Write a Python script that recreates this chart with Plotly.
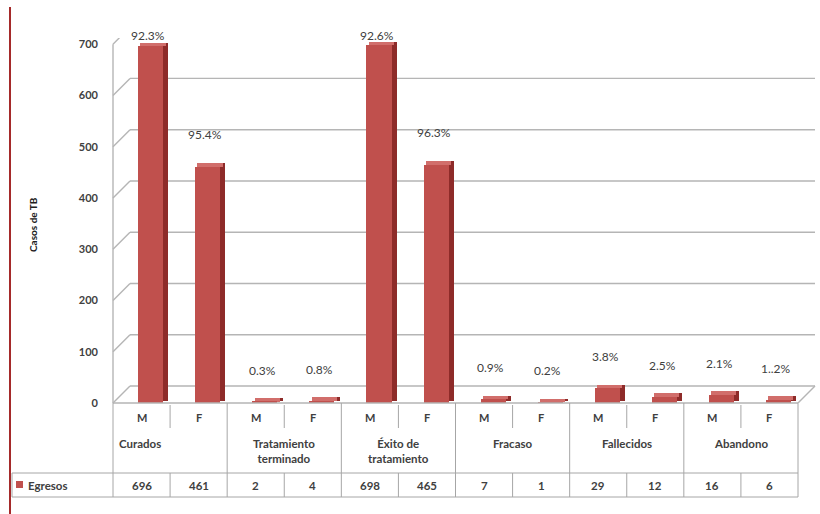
import plotly.graph_objects as go

# ---------------- data ----------------
groups = ["Curados", "Tratamiento<br>terminado", "Éxito de<br>tratamiento",
          "Fracaso", "Fallecidos", "Abandono"]
sexes = ["M", "F"]
series_name = "Egresos"
egresos = [696, 461, 2, 4, 698, 465, 7, 1, 29, 12, 16, 6]
pct_labels = ["92.3%", "95.4%", "0.3%", "0.8%", "92.6%", "96.3%",
              "0.9%", "0.2%", "3.8%", "2.5%", "2.1%", "1..2%"]
y_ticks = [0, 100, 200, 300, 400, 500, 600, 700]
y_title = "Casos de TB"

# ---------------- layout helpers ----------------
W, H = 820, 514
ML, MR, MT, MB = 113, 22, 38, 111
PW, PH = W - ML - MR, H - MT - MB
Y0PX = MT + PH  # pixel row of y=0


def px(x):
    return (x - ML) / PW


def py(y):
    return (Y0PX - y) / PH


FONT = "Lato"
TXT = "#404040"
RED = "#C0504D"
RED_DARK = "#8E2B29"
RED_TOP = "#D16E6B"
GRID = "#B5B5B5"
TBL = "#A6A6A6"
DEPTH = 17

n = len(egresos)
xs = list(range(n))

fig = go.Figure()

# side faces
fig.add_trace(go.Bar(x=xs, y=[v + 3.5 for v in egresos], base=[3.5] * n,
                     width=0.09, offset=0.38, marker=dict(color=RED_DARK, line=dict(width=0)),
                     hoverinfo="skip", showlegend=False))
# top faces
fig.add_trace(go.Bar(x=xs, y=[7] * n, base=egresos,
                     width=0.44, offset=-0.02, marker=dict(color=RED_TOP, line=dict(width=0)),
                     hoverinfo="skip", showlegend=False))
# front faces
fig.add_trace(go.Bar(x=xs, y=egresos, width=0.44, offset=-0.06, name=series_name,
                     marker=dict(color=RED, line=dict(width=0)), showlegend=False))

shapes = []
# back-wall gridlines and slanted left wall ticks
for t in y_ticks:
    shapes.append(dict(type="line", layer="below", xref="paper", yref="y",
                       ysizemode="pixel", yanchor=t, y0=DEPTH, y1=DEPTH,
                       x0=px(ML + DEPTH), x1=px(815), line=dict(color=GRID, width=1.4)))
    shapes.append(dict(type="line", layer="below", xref="paper", yref="y",
                       ysizemode="pixel", yanchor=t, y0=0, y1=DEPTH,
                       x0=0, x1=px(ML + DEPTH), line=dict(color=GRID, width=1.4)))
# front left axis line
shapes.append(dict(type="line", layer="below", xref="paper", yref="y",
                   x0=0, x1=0, y0=0, y1=y_ticks[-1], line=dict(color=GRID, width=1.4)))
# right floor slant
shapes.append(dict(type="line", layer="below", xref="paper", yref="y",
                   ysizemode="pixel", yanchor=0, y0=0, y1=DEPTH,
                   x0=1, x1=px(815), line=dict(color=GRID, width=1.4)))

# ---------------- data table ----------------
col_w = PW / n
row_top, row_mid, row_val, row_bot = Y0PX, 428, 473, 497
line = dict(color=TBL, width=1)
shapes.append(dict(type="line", xref="paper", yref="paper", x0=0, x1=1,
                   y0=py(row_top), y1=py(row_top), line=dict(color=GRID, width=1.4)))
for yy in (row_val, row_bot):
    shapes.append(dict(type="line", xref="paper", yref="paper", x0=px(12), x1=1,
                       y0=py(yy), y1=py(yy), line=line))
shapes.append(dict(type="line", xref="paper", yref="paper", x0=px(12), x1=px(12),
                   y0=py(row_val), y1=py(row_bot), line=line))
for k in range(n + 1):
    xk = px(ML + k * col_w)
    if k % 2 == 0:
        shapes.append(dict(type="line", xref="paper", yref="paper", x0=xk, x1=xk,
                           y0=py(row_top), y1=py(row_bot), line=line))
    else:
        shapes.append(dict(type="line", xref="paper", yref="paper", x0=xk, x1=xk,
                           y0=py(row_top + 2), y1=py(row_mid), line=line))
        shapes.append(dict(type="line", xref="paper", yref="paper", x0=xk, x1=xk,
                           y0=py(row_val), y1=py(row_bot), line=line))

# legend key in the table
shapes.append(dict(type="rect", xref="paper", yref="paper", x0=px(16), x1=px(23),
                   y0=py(488), y1=py(481), fillcolor=RED, line=dict(width=0)))
# left border of the chart frame
shapes.append(dict(type="line", xref="paper", yref="paper", x0=px(10), x1=px(10),
                   y0=py(7), y1=py(514), line=dict(color="#A52A2A", width=2)))

ann = []
# percentage labels
for i, (v, lab) in enumerate(zip(egresos, pct_labels)):
    yl = v + 62
    ann.append(dict(x=i + 0.12, y=min(yl, 700), yshift=9 if yl > 700 else 0,
                    xref="x", yref="y", text=lab, xanchor="center", yanchor="middle",
                    showarrow=False, font=dict(family=FONT, size=12, color=TXT)))
# M / F row and values row
for i, v in enumerate(egresos):
    xc = px(ML + (i + 0.5) * col_w)
    ann.append(dict(x=xc, y=py(417), xref="paper", yref="paper", text=sexes[i % 2],
                    xanchor="center", yanchor="middle", showarrow=False,
                    font=dict(family=FONT, size=11, color=TXT, weight="bold")))
    ann.append(dict(x=xc, y=py(485), xref="paper", yref="paper", text=str(v),
                    xanchor="center", yanchor="middle", showarrow=False,
                    font=dict(family=FONT, size=11.5, color=TXT, weight="bold")))
# group labels
for g, name in enumerate(groups):
    xc = px(ML + (2 * g + 1) * col_w) if g > 0 else px(ML + 4)
    ann.append(dict(x=xc, y=py(435), xref="paper", yref="paper", text=name,
                    xanchor="center" if g > 0 else "left", yanchor="top", showarrow=False,
                    font=dict(family=FONT, size=11.5, color=TXT, weight="bold")))
# series name in table header
ann.append(dict(x=px(26), y=py(485), xref="paper", yref="paper", text=series_name,
                xanchor="left", yanchor="middle", showarrow=False,
                font=dict(family=FONT, size=11.5, color=TXT, weight="bold")))
# y axis title
ann.append(dict(x=px(33), y=py(225), xref="paper", yref="paper", text=y_title,
                textangle=-90, xanchor="center", yanchor="middle", showarrow=False,
                font=dict(family=FONT, size=10, color="#202020", weight="bold")))

fig.update_layout(
    width=W, height=H, margin=dict(l=ML, r=MR, t=MT, b=MB),
    paper_bgcolor="white", plot_bgcolor="white",
    barmode="overlay", bargap=0,
    xaxis=dict(range=[-0.5, n - 0.5], showticklabels=False, showgrid=False,
               zeroline=False, showline=False, fixedrange=True),
    yaxis=dict(range=[0, 712], tickvals=y_ticks, showgrid=False, zeroline=False,
               showline=False, ticks="", ticklabelstandoff=14,
               tickfont=dict(family=FONT, size=11, color=TXT, weight="bold")),
    shapes=shapes, annotations=ann, showlegend=False,
)

fig.write_html("out.html", config={"displayModeBar": False},
               post_script="document.body.style.margin='0px';")
